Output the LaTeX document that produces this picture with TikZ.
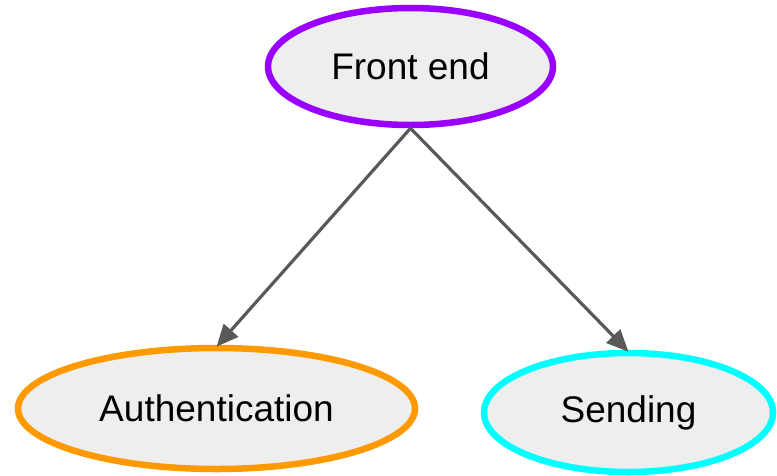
\documentclass[tikz,border=0pt]{standalone}
\usepackage{fontspec}
\setmainfont{Liberation Sans}
\usetikzlibrary{shapes.geometric,arrows.meta}
\definecolor{cpurple}{HTML}{9900FF}
\definecolor{corange}{HTML}{FF9900}
\definecolor{ccyan}{HTML}{00FFFF}
\definecolor{cfill}{HTML}{EEEEEE}
\definecolor{carrow}{HTML}{595959}
\tikzset{
  ell/.style={ellipse, draw, fill=cfill, line width=6.5pt, inner sep=0pt,
    font=\fontsize{37}{44}\selectfont, text=black},
  conn/.style={draw=carrow, line width=3.2pt, -{Triangle[length=22pt,width=19pt]}}
}
\begin{document}
\begin{tikzpicture}[x=1pt,y=-1pt]
\useasboundingbox (0,0) rectangle (777,475);
\node[ell, draw=cpurple, minimum width=285pt, minimum height=117pt] (fe) at (410.5,66.5) {\raisebox{-3pt}{Front end}};
\node[ell, draw=corange, minimum width=397pt, minimum height=121pt] (auth) at (216.5,408.5) {Authentication};
\node[ell, draw=ccyan, minimum width=289pt, minimum height=119pt] (send) at (628.5,412.5) {\raisebox{-2pt}{Sending}};
\draw[conn] (fe.south) -- ([yshift=-2pt]auth.north);
\draw[conn] (fe.south) -- ([yshift=-2pt]send.north);
\end{tikzpicture}
\end{document}
